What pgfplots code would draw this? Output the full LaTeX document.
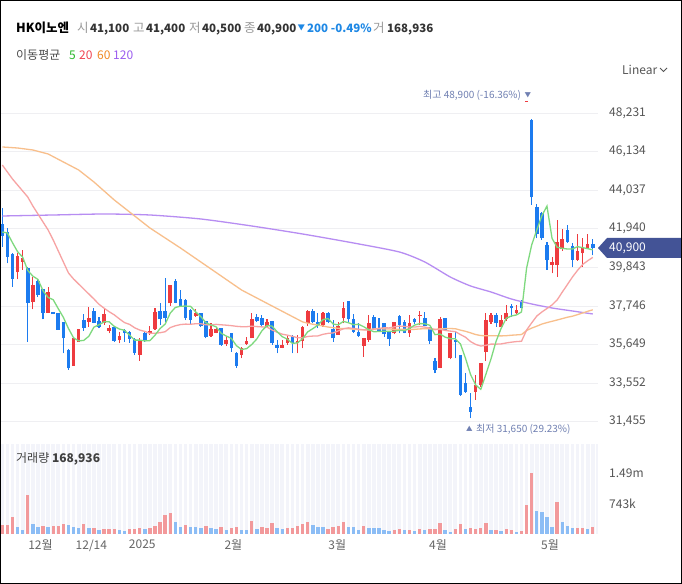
\documentclass[border=0pt]{standalone}
\usepackage{fontspec}
\setmainfont{Noto Sans CJK KR}
\usepackage{pgfplots}
\usepackage{pgfplotstable}
\pgfplotsset{compat=1.18}
\definecolor{cred}{HTML}{EE3B3F}
\definecolor{cblue}{HTML}{1C7BEF}
\definecolor{vred}{HTML}{F2999B}
\definecolor{vblue}{HTML}{8CBDF5}
\definecolor{ma5}{HTML}{7ED97E}
\definecolor{ma20}{HTML}{F7A3A3}
\definecolor{ma60}{HTML}{F8BF8C}
\definecolor{ma120}{HTML}{B78DF2}
\definecolor{gridc}{HTML}{EFEFF2}
\definecolor{tickc}{HTML}{555555}
\definecolor{tagbg}{HTML}{435396}
\definecolor{volbg}{HTML}{F3F4FA}
\definecolor{hlbl}{HTML}{7080B2}
\definecolor{lblg}{HTML}{999999}
\definecolor{numc}{HTML}{333333}
\definecolor{chg}{HTML}{1E88E5}
\definecolor{lg5}{HTML}{2DB82D}
\definecolor{lg20}{HTML}{F04452}
\definecolor{lg60}{HTML}{F08A24}
\definecolor{lg120}{HTML}{9B5CF0}
\newcommand\hsz{\fontsize{12.5bp}{15bp}\selectfont}
\newcommand\nsz{\fontsize{11.5bp}{14bp}\selectfont}
\newcommand\tsz{\fontsize{12bp}{14bp}\selectfont}
\newcommand\ssz{\fontsize{10bp}{12bp}\selectfont}

\pgfplotstableread{
i L H B T
3 39194 40606 39574 40462
4 39701 40788 40154 40335
6 37564 39339 37980 38886
9 37383 38759 37383 38506
14 34503 36024 34503 35988
15 35807 36477 35807 36477
17 36622 37709 36894 37111
20 36713 37582 36803 37292
21 36260 36713 36387 36568
23 35717 36351 35898 36115
27 34775 35988 35083 35862
29 36170 36658 36260 36387
30 36441 37654 36477 37437
33 37745 38886 37890 38886
38 37166 37564 37202 37383
41 36080 36804 36116 36478
42 36261 36623 36297 36478
44 35572 36080 35681 35898
47 34903 35536 35084 35446
48 35627 36080 35681 35862
49 35989 37384 35989 37021
52 36623 37021 36677 36858
55 35446 35898 35482 35627
56 35627 36170 35754 36025
58 35174 36170 35717 35862
59 35446 36659 35862 36623
60 36659 37528 36804 37474
63 36623 37438 36713 37384
66 36170 36895 36170 36659
67 36804 37981 37076 37619
71 34993 35989 35572 35989
72 35808 37257 35898 36804
77 36206 36895 36261 36858
80 36080 37257 36261 36804
82 36713 37492 37210 37280
86 34359 37166 34395 37021
88 34848 36297 34903 36261
93 32639 33997 33091 33454
94 33363 34667 33454 34631
95 34776 37384 35265 36985
96 36768 37384 36895 37257
98 36587 37257 36587 36985
99 36949 37800 37021 37347
101 37311 37800 37347 37528
103 48830 48900 48830 48900
108 39520 40426 39973 40118
109 39339 42418 39973 41241
110 40751 41911 40824 41367
113 40208 41657 40244 40751
114 39882 41422 40607 40969
115 40897 41657 40900 41100
}\uptab

\pgfplotstableread{
i L H B T
0 40970 43050 41550 42200
1 40063 41965 40425 41750
2 38795 40606 39230 40552
5 35807 39882 37926 39791
7 38252 39194 38343 39103
8 37021 38669 37383 38669
10 37310 37419 37310 37419
11 36441 37347 36441 37347
12 35173 36857 35988 36857
13 34268 35391 34358 35354
16 36405 37292 36568 36984
18 36803 37618 36839 37473
19 36532 37166 36622 36948
22 35807 36586 35862 36586
24 35807 36477 36296 36441
25 35753 36387 35970 36351
26 35083 35988 35210 35934
28 35807 36351 35898 36296
31 36713 37890 37021 37473
32 36894 39248 37075 37473
34 37890 39194 37926 39121
35 37709 38614 37745 38107
36 36984 38107 37075 38071
37 36713 37564 36984 37528
39 36587 37384 36650 37347
40 35989 36931 36080 36931
43 35572 36532 35627 36532
45 35265 36297 35446 36261
46 34395 35265 34486 35210
50 36895 37311 36949 37166
51 36659 37257 36713 37076
53 35627 36931 35717 36931
54 35174 35898 35482 35627
57 35174 36170 35717 36116
61 36804 37565 36895 37474
62 36532 37347 36659 36895
64 36804 37438 36895 37384
65 35808 36985 35989 36478
68 36804 38017 37021 38017
69 36297 37311 36351 37021
70 36080 36804 36116 36351
73 36442 37257 36478 37166
74 36351 37076 36406 36532
75 36080 36804 36206 36804
76 35572 36387 35935 36387
78 36261 37257 36713 37202
79 36261 36985 36297 36895
81 36750 37112 36858 37039
83 36659 37402 36677 37112
84 35681 36623 35862 36623
85 34088 34903 34268 34758
87 36406 37076 36442 37076
89 34903 36351 35808 35880
90 32856 35084 32911 35084
91 33037 34088 33091 33581
92 31650 33037 32005 32277
97 36623 37347 36804 37257
100 37166 37836 37619 37746
102 37619 38072 37619 38017
104 43233 47887 43649 47851
105 41422 43269 41657 43142
106 41331 42870 41422 42816
107 39701 41241 40244 41060
111 41186 42146 41241 41874
112 39846 41150 40244 41005
116 40500 41400 40900 41100
}\downtab

\pgfplotstableread{
i v
0 224
1 224
2 415
5 971
8 199
10 199
11 199
12 241
16 241
18 141
20 116
21 116
22 116
25 116
26 116
27 141
29 141
30 199
31 307
32 465
33 515
36 224
40 199
43 166
45 141
46 166
49 324
51 166
52 141
53 266
56 141
57 141
58 199
59 241
60 299
64 116
65 166
66 199
67 299
71 199
77 100
78 116
80 100
82 116
84 116
85 116
86 274
89 116
90 241
92 141
93 125
94 141
95 274
97 91
99 116
100 91
102 75
103 714
104 1494
109 789
113 158
114 141
116 169
}\vredtab

\pgfplotstableread{
i v
3 166
4 100
6 241
7 166
9 166
13 216
14 166
15 141
17 141
19 100
23 91
24 75
28 116
34 299
35 166
37 166
38 166
39 158
41 141
42 116
44 100
47 100
48 100
50 116
54 141
55 116
61 216
62 166
63 166
68 166
69 166
70 100
72 141
73 141
74 141
75 91
76 66
79 100
81 75
83 100
87 91
88 50
91 116
96 100
98 75
101 50
105 573
106 548
107 415
108 166
110 291
111 208
112 158
115 116
}\vbluetab

\begin{document}
\begin{tikzpicture}[x=1bp,y=1bp]
\useasboundingbox (0,0) rectangle (682,584);
\fill[white] (0,0) rectangle (682,584);

% ---------- price panel ----------
\begin{axis}[at={(0bp,144bp)}, anchor=south west, scale only axis,
  width=598bp, height=358bp,
  xmin=-0.452, xmax=117.03, ymin=30465, ymax=49915,
  axis line style={draw=none}, tick style={draw=none},
  xtick=\empty, scaled y ticks=false,
  ytick={31455,33552,35649,37746,39843,41940,44037,46134,48231},
  yticklabels={{31,455},{33,552},{35,649},{37,746},{39,843},{41,940},{44,037},{46,134},{48,231}},
  yticklabel pos=right,
  ymajorgrids, grid style={color=gridc, line width=0.9bp},
  yticklabel style={font=\tsz, text=tickc, anchor=west, inner sep=0pt, xshift=11bp},
  /pgf/number format/assume math mode=true]
\addplot[cred, line width=1.1bp, -, quiver={u=0,v=\thisrow{H}-\thisrow{L}}] table[x=i,y=L]{\uptab};
\addplot[cred, line width=3.6bp, -, quiver={u=0,v=\thisrow{T}-\thisrow{B}}] table[x=i,y=B]{\uptab};
\addplot[cblue, line width=1.1bp, -, quiver={u=0,v=\thisrow{H}-\thisrow{L}}] table[x=i,y=L]{\downtab};
\addplot[cblue, line width=3.6bp, -, quiver={u=0,v=\thisrow{T}-\thisrow{B}}] table[x=i,y=B]{\downtab};

\addplot[ma120, line width=1.3bp, smooth, tension=0.4] coordinates {(0,42635)(10,42689)(20,42743)(29,42689)(39,42472)(49,42092)(59,41657)(69,41168)(78,40680)(83,40136)(88,39321)(92,38832)(96,38506)(100,38126)(104,37854)(108,37637)(112,37474)(116,37311)};

\addplot[ma60, line width=1.3bp] coordinates {(0,46384)(3,46329)(6,46221)(9,46004)(12,45569)(15,45135)(18,44482)(22,43504)(29,41983)(35,40896)(39,40136)(47,38614)(53,37745)(59,36880)(60,36812)(61,36753)(62,36710)(63,36659)(64,36602)(65,36569)(66,36532)(67,36520)(68,36514)(69,36478)(70,36458)(71,36451)(72,36464)(73,36500)(74,36507)(75,36502)(76,36491)(77,36487)(78,36485)(79,36480)(80,36472)(81,36476)(82,36500)(83,36509)(84,36502)(85,36474)(86,36504)(87,36514)(88,36520)(89,36510)(90,36435)(91,36369)(92,36285)(93,36194)(94,36139)(95,36126)(96,36130)(97,36127)(98,36120)(99,36131)(100,36157)(101,36175)(102,36194)(103,36415)(104,36544)(105,36648)(106,36763)(107,36843)(108,36914)(109,36984)(110,37058)(111,37134)(112,37190)(113,37274)(114,37365)(115,37457)(116,37538)};

\addplot[ma20, line width=1.3bp] coordinates {(0,45406)(1,45025)(2,44645)(3,44319)(4,43993)(5,43667)(6,43178)(7,42743)(8,42309)(9,41874)(10,41331)(11,40734)(12,40136)(13,39538)(14,39212)(15,38940)(16,38669)(17,38397)(18,38126)(19,37837)(20,37625)(21,37432)(22,37263)(23,37046)(24,36844)(25,36746)(26,36562)(27,36438)(28,36364)(29,36258)(30,36264)(31,36293)(32,36348)(33,36574)(34,36671)(35,36735)(36,36760)(37,36754)(38,36781)(39,36782)(40,36722)(41,36717)(42,36748)(43,36723)(44,36704)(45,36677)(46,36641)(47,36620)(48,36619)(49,36650)(50,36626)(51,36610)(52,36600)(53,36441)(54,36319)(55,36213)(56,36161)(57,36097)(58,36021)(59,36020)(60,36089)(61,36110)(62,36119)(63,36207)(64,36257)(65,36284)(66,36393)(67,36502)(68,36559)(69,36526)(70,36484)(71,36448)(72,36445)(73,36483)(74,36530)(75,36559)(76,36554)(77,36611)(78,36654)(79,36637)(80,36604)(81,36602)(82,36633)(83,36598)(84,36546)(85,36460)(86,36478)(87,36419)(88,36381)(89,36354)(90,36194)(91,36049)(92,35809)(93,35658)(94,35569)(95,35608)(96,35674)(97,35671)(98,35685)(99,35737)(100,35778)(101,35812)(102,35829)(103,36440)(104,36829)(105,37199)(106,37419)(107,37609)(108,37802)(109,38073)(110,38496)(111,38904)(112,39316)(113,39680)(114,39997)(115,40203)(116,40385)};

\addplot[ma5, line width=1.3bp] coordinates {(0,41766)(1,41711)(2,41184)(3,40695)(4,40400)(5,39676)(6,39368)(7,39190)(8,38575)(9,38209)(10,38086)(11,37597)(12,37126)(13,36521)(14,36017)(15,35850)(16,35876)(17,36100)(18,36597)(19,36723)(20,36886)(21,36886)(22,36637)(23,36492)(24,36427)(25,36162)(26,35891)(27,35891)(28,35847)(29,35865)(30,36159)(31,36521)(32,36764)(33,37361)(34,37669)(35,37731)(36,37741)(37,37723)(38,37423)(39,37167)(40,36834)(41,36715)(42,36614)(43,36263)(44,36112)(45,35985)(46,35587)(47,35381)(48,35428)(49,35652)(50,35953)(51,36398)(52,36681)(53,36652)(54,36344)(55,36079)(56,35942)(57,35714)(58,35743)(59,35971)(60,36340)(61,36514)(62,36703)(63,37007)(64,37061)(65,36764)(66,36717)(67,36909)(68,36837)(69,36728)(70,36753)(71,36619)(72,36456)(73,36348)(74,36359)(75,36377)(76,36366)(77,36377)(78,36424)(79,36402)(80,36521)(81,36706)(82,36789)(83,36782)(84,36695)(85,36188)(86,36221)(87,36054)(88,35971)(89,35960)(90,35689)(91,34903)(92,34015)(93,33454)(94,33218)(95,34033)(96,34866)(97,35826)(98,36532)(99,37076)(100,37202)(101,37257)(102,37420)(103,39803)(104,41063)(105,41871)(106,42649)(107,43174)(108,41418)(109,40936)(110,40878)(111,40842)(112,40842)(113,40969)(114,40914)(115,40861)(116,40793)};
\end{axis}

% ---------- volume panel ----------
\begin{axis}[at={(0bp,50bp)}, anchor=south west, scale only axis,
  width=598bp, height=90bp,
  xmin=-0.452, xmax=117.03, ymin=0, ymax=2218,
  axis line style={draw=none}, tick style={draw=none},
  scaled y ticks=false, scaled x ticks=false,
  axis background/.style={fill=volbg},
  xtick={7.5,17.5,27.5,45.4,65.8,85.6,107.6},
  xticklabels={12월,12/14,2025,2월,3월,4월,5월},
  xticklabel style={font=\tsz, text=black!60, yshift=-2bp},
  minor xtick={-0.5,0.5,...,116.5}, xminorgrids,
  minor grid style={white, line width=1.4bp},
  ytick={743,1490}, yticklabels={743k,1.49m},
  yticklabel pos=right,
  yticklabel style={font=\tsz, text=tickc, anchor=west, inner sep=0pt, xshift=11bp},
  /pgf/number format/assume math mode=true]
\addplot[ycomb, vred, line width=3.4bp] table[x=i,y=v]{\vredtab};
\addplot[ycomb, vblue, line width=3.4bp] table[x=i,y=v]{\vbluetab};
\end{axis}

% ---------- texts ----------
\node[anchor=base west, inner sep=0pt, font=\hsz\bfseries] at (16,551.5) {HK이노엔};
\node[anchor=base west, inner sep=0pt, font=\hsz, text=lblg] at (77,551.5) {시};
\node[anchor=base west, inner sep=0pt, font=\nsz\bfseries, text=numc] at (90,551.5) {41,100};
\node[anchor=base west, inner sep=0pt, font=\hsz, text=lblg] at (133,551.5) {고};
\node[anchor=base west, inner sep=0pt, font=\nsz\bfseries, text=numc] at (146,551.5) {41,400};
\node[anchor=base west, inner sep=0pt, font=\hsz, text=lblg] at (189,551.5) {저};
\node[anchor=base west, inner sep=0pt, font=\nsz\bfseries, text=numc] at (202,551.5) {40,500};
\node[anchor=base west, inner sep=0pt, font=\hsz, text=lblg] at (244,551.5) {종};
\node[anchor=base west, inner sep=0pt, font=\nsz\bfseries, text=numc] at (257,551.5) {40,900};
\node[anchor=base west, inner sep=0pt, font=\fontsize{7.5bp}{9bp}\selectfont, text=chg] at (297.5,553) {▼};
\node[anchor=base west, inner sep=0pt, font=\nsz\bfseries, text=chg] at (307,551.5) {200 -0.49\%};
\node[anchor=base west, inner sep=0pt, font=\hsz, text=lblg] at (373,551.5) {거};
\node[anchor=base west, inner sep=0pt, font=\nsz\bfseries, text=numc] at (387,551.5) {168,936};

\node[anchor=base west, inner sep=0pt, font=\tsz, text=black!70] at (16,524) {이동평균};
\node[anchor=base west, inner sep=0pt, font=\tsz, text=lg5] at (69,524) {5};
\node[anchor=base west, inner sep=0pt, font=\tsz, text=lg20] at (79,524) {20};
\node[anchor=base west, inner sep=0pt, font=\tsz, text=lg60] at (97,524) {60};
\node[anchor=base west, inner sep=0pt, font=\tsz, text=lg120] at (113,524) {120};

\node[anchor=base west, inner sep=0pt, font=\tsz, text=tickc] at (622,509.5) {Linear};
\draw[tickc, line width=0.9bp] (660,516) -- (663.5,512.5) -- (667,516);

\fill[tagbg] (598,336) -- (607,346) -- (682,346) -- (682,326) -- (607,326) -- cycle;
\node[anchor=west, inner sep=0pt, font=\tsz, text=white] at (609,336) {40,900};

\node[anchor=west, inner sep=0pt, font=\ssz, text=hlbl] at (423,489) {최고 48,900 (-16.36\%)};
\node[anchor=west, inner sep=0pt, font=\fontsize{6.5bp}{8bp}\selectfont, text=hlbl] at (524.5,489) {▼};
\node[anchor=west, inner sep=0pt, font=\fontsize{6.5bp}{8bp}\selectfont, text=hlbl] at (466,155) {▲};
\node[anchor=west, inner sep=0pt, font=\ssz, text=hlbl] at (476,155) {최저 31,650 (29.23\%)};

\node[anchor=west, inner sep=0pt, font=\tsz, text=black!75] at (16,125) {거래량 \textbf{168,936}};

\draw[black, line width=1bp] (0.5,0.5) rectangle (681.5,583.5);
\end{tikzpicture}
\end{document}
